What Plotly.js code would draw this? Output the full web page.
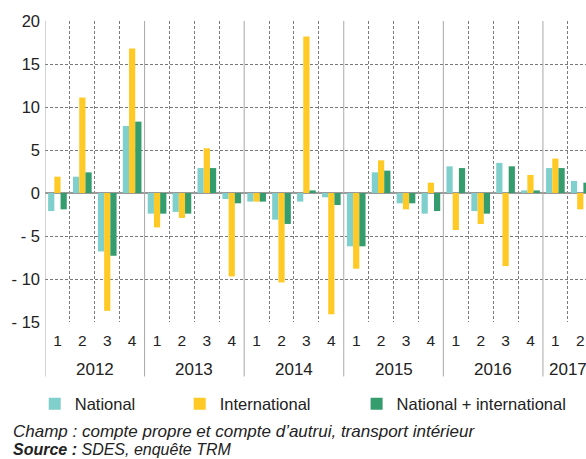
<!DOCTYPE html>
<html>
<head>
<meta charset="utf-8">
<script src="https://cdn.plot.ly/plotly-3.0.1.min.js"></script>
<style>
html,body{margin:0;padding:0;background:#fff;}
#chart{width:586px;height:459px;}
</style>
</head>
<body>
<div id="chart"></div>
<script>
// ---- Data ----
const years = ["2012", "2013", "2014", "2015", "2016", "2017"];
const quartersPerYear = [4, 4, 4, 4, 4, 2];
const quarterLabels = ["1", "2", "3", "4", "1", "2", "3", "4", "1", "2", "3", "4", "1", "2", "3", "4", "1", "2", "3", "4", "1", "2"];
const yTickValues = [-15, -10, -5, 0, 5, 10, 15, 20];
const yTickLabels = ["- 15", "- 10", "- 5", "0", "5", "10", "15", "20"];
const seriesNames = ["National", "International", "National + international"];
const national = [-2.1, 1.9, -6.8, 7.8, -2.4, -2.2, 2.9, -0.7, -1.0, -3.1, -1.0, -0.5, -6.2, 2.4, -1.2, -2.4, 3.1, -2.1, 3.5, 0.3, 2.9, 1.4];
const international = [1.9, 11.1, -13.7, 16.8, -4.0, -2.9, 5.2, -9.7, -1.0, -10.4, 18.2, -14.1, -8.8, 3.8, -1.9, 1.2, -4.3, -3.6, -8.5, 2.1, 4.0, -1.9];
const nationalInternational = [-1.9, 2.4, -7.3, 8.3, -2.4, -2.4, 2.9, -1.2, -1.0, -3.6, 0.3, -1.4, -6.2, 2.6, -1.2, -2.1, 2.9, -2.4, 3.1, 0.3, 2.9, 1.2];
const noteLine1 = "<i>Champ : compte propre et compte d’autrui, transport intérieur</i>";
const noteLine2 = "<b><i>Source :</i></b><i> SDES, enquête TRM</i>";

// ---- Styles ----
const colors = ["#7FCFCD", "#FFC926", "#359C6E"];
const FONT = "'Liberation Sans', Arial, Helvetica, sans-serif";
const TXT = "#222222";

const idx = quarterLabels.map((_, i) => i);
const seriesData = [national, international, nationalInternational];
const legendIds = ["legend", "legend2", "legend3"];

const traces = seriesData.map((vals, k) => ({
  type: "bar",
  x: idx,
  y: vals,
  name: seriesNames[k],
  legend: legendIds[k],
  marker: { color: colors[k], line: { width: 0 } },
  hoverinfo: "skip"
}));

// year boundaries and centers (index units)
const yearStarts = [];
let acc = 0;
quartersPerYear.forEach(n => { yearStarts.push(acc); acc += n; });
const quarterBoundaries = [];
for (let i = 0; i < quarterLabels.length; i++) {
  if (!yearStarts.includes(i)) quarterBoundaries.push(i - 0.5);
}

const shapes = yearStarts.map(s => ({
  type: "line", xref: "x", yref: "paper",
  x0: s - 0.5, x1: s - 0.5, y0: -0.181, y1: 1,
  line: { color: "#A8A8A8", width: 1 },
  layer: "above"
}));

const annotations = years.map((yr, j) => ({
  text: yr, xref: "x", yref: "paper",
  x: yearStarts[j] + (quartersPerYear[j] - 1) / 2, y: -0.159,
  xanchor: "center", yanchor: "middle", showarrow: false,
  font: { family: FONT, size: 17, color: TXT }
}));
annotations.push({
  text: noteLine1, xref: "paper", yref: "paper", x: -0.062, y: -0.363,
  xanchor: "left", yanchor: "middle", showarrow: false,
  font: { family: FONT, size: 17, color: TXT }
});
annotations.push({
  text: noteLine2, xref: "paper", yref: "paper", x: -0.062, y: -0.425,
  xanchor: "left", yanchor: "middle", showarrow: false,
  font: { family: FONT, size: 16, color: TXT }
});

const legendBase = {
  orientation: "h", yanchor: "middle", xanchor: "left", y: -0.2725,
  bgcolor: "rgba(0,0,0,0)", borderwidth: 0,
  font: { family: FONT, size: 16.5, color: TXT }
};

const layout = {
  width: 586, height: 459,
  margin: { l: 45, r: 0, t: 21, b: 137 },
  paper_bgcolor: "#ffffff", plot_bgcolor: "#ffffff",
  font: { family: FONT, color: TXT },
  barmode: "group", bargap: 0.25, bargroupgap: 0,
  showlegend: true,
  legend: Object.assign({}, legendBase, { x: -0.019 }),
  legend2: Object.assign({}, legendBase, { x: 0.249 }),
  legend3: Object.assign({}, legendBase, { x: 0.576 }),
  xaxis: {
    type: "linear",
    range: [-0.5, quarterLabels.length - 0.77],
    tickmode: "array", tickvals: idx, ticktext: quarterLabels,
    ticks: "", showgrid: false, zeroline: false, showline: false,
    ticklabelstandoff: 7, automargin: false,
    tickfont: { family: FONT, size: 15.5, color: TXT },
    minor: { tickmode: "array", tickvals: quarterBoundaries, showgrid: true,
             gridcolor: "#7A7A7A", gridwidth: 1, griddash: "3px,2px", ticks: "" },
    fixedrange: true
  },
  yaxis: {
    range: [-15, 20],
    tickmode: "array", tickvals: yTickValues, ticktext: yTickLabels,
    ticks: "", showgrid: true, gridcolor: "#7A7A7A", gridwidth: 1, griddash: "3px,2px",
    zeroline: true, zerolinecolor: "#9A9A9A", zerolinewidth: 2,
    showline: false, automargin: false, ticklabelstandoff: 4,
    tickfont: { family: FONT, size: 16.5, color: TXT },
    fixedrange: true
  },
  shapes: shapes,
  annotations: annotations
};

Plotly.newPlot("chart", traces, layout, { displayModeBar: false, staticPlot: true });
</script>
</body>
</html>
